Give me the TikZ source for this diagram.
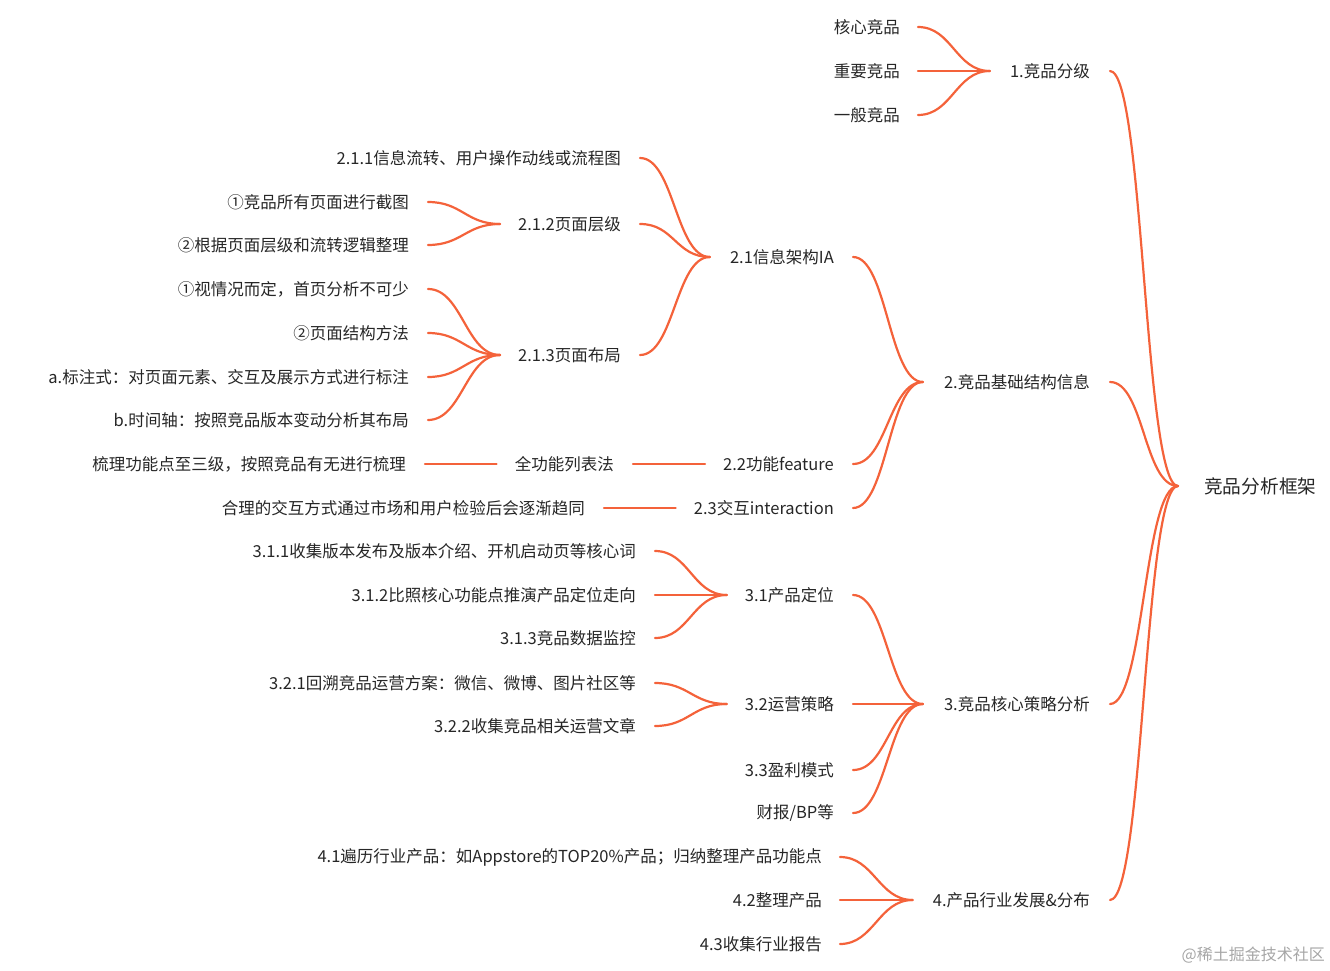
\documentclass[tikz,border=0pt]{standalone}
\usepackage{fontspec}
\setmainfont{Noto Sans CJK SC}
\begin{document}
\begin{tikzpicture}[x=1pt,y=-1pt,
  t/.style={anchor=east,inner sep=0pt,font=\fontsize{16.5}{19}\selectfont,text=black!85},
  ln/.style={draw=lc,line width=2.2pt,line cap=round}]
\definecolor{lc}{HTML}{F4623A}
\useasboundingbox (0,0) rectangle (1330,971);
\newcommand\nd[4]{\node[t] (#1) at (#2,#3) {#4};}
\newcommand\lk[4]{\draw[ln] ([xshift=#3]#1.east) .. controls +(34,0) and +(-34,0) .. ([xshift=-#4]#2.west);}
\node[anchor=west,inner sep=0pt,font=\fontsize{18.7}{21}\selectfont,text=black!85] (root) at (1204,486) {竞品分析框架};
\nd{a}{1090}{71}{1.竞品分级}
\nd{a1}{900}{27}{核心竞品}
\nd{a2}{900}{71}{重要竞品}
\nd{a3}{900}{115}{一般竞品}
\nd{b}{1090}{382}{2.竞品基础结构信息}
\nd{b1}{834}{257}{2.1信息架构IA}
\nd{b11}{621}{158}{2.1.1信息流转、用户操作动线或流程图}
\nd{b12}{621}{224}{2.1.2页面层级}
\nd{b121}{409}{202}{①竞品所有页面进行截图}
\nd{b122}{409}{245}{②根据页面层级和流转逻辑整理}
\nd{b13}{621}{355}{2.1.3页面布局}
\nd{b131}{409}{289}{①视情况而定，首页分析不可少}
\nd{b132}{409}{333}{②页面结构方法}
\nd{b133}{409}{377}{a.标注式：对页面元素、交互及展示方式进行标注}
\nd{b134}{409}{420}{b.时间轴：按照竞品版本变动分析其布局}
\nd{b2}{834}{464}{2.2功能feature}
\nd{b21}{614}{464}{全功能列表法}
\nd{b211}{406}{464}{梳理功能点至三级，按照竞品有无进行梳理}
\nd{b3}{834}{508}{2.3交互interaction}
\nd{b31}{585}{508}{合理的交互方式通过市场和用户检验后会逐渐趋同}
\nd{c}{1090}{704}{3.竞品核心策略分析}
\nd{c1}{834}{595}{3.1产品定位}
\nd{c11}{636}{551}{3.1.1收集版本发布及版本介绍、开机启动页等核心词}
\nd{c12}{636}{595}{3.1.2比照核心功能点推演产品定位走向}
\nd{c13}{636}{638}{3.1.3竞品数据监控}
\nd{c2}{834}{704}{3.2运营策略}
\nd{c21}{636}{683}{3.2.1回溯竞品运营方案：微信、微博、图片社区等}
\nd{c22}{636}{726}{3.2.2收集竞品相关运营文章}
\nd{c3}{834}{770}{3.3盈利模式}
\nd{c4}{834}{813}{财报/BP等}
\nd{d}{1090}{900}{4.产品行业发展\&分布}
\nd{d1}{822}{857}{4.1遍历行业产品：如Appstore的TOP20\%产品；归纳整理产品功能点}
\nd{d2}{822}{900}{4.2整理产品}
\nd{d3}{822}{944}{4.3收集行业报告}
\node[anchor=east,inner sep=0pt,font=\fontsize{16}{18}\selectfont,text=black!35] (wm) at (1325,955) {@稀土掘金技术社区};
% links
\foreach \c in {a,b,c,d} {\lk{\c}{root}{20}{26}}
\foreach \c in {a1,a2,a3} {\lk{\c}{a}{18}{20}}
\foreach \c in {b1,b2,b3} {\lk{\c}{b}{19}{21}}
\foreach \c in {b11,b12,b13} {\lk{\c}{b1}{19}{20}}
\foreach \c in {b121,b122} {\lk{\c}{b12}{19}{18}}
\foreach \c in {b131,b132,b133,b134} {\lk{\c}{b13}{19}{18}}
\draw[ln] ([xshift=19]b21.east) -- ([xshift=-18]b2.west);
\draw[ln] ([xshift=19]b211.east) -- ([xshift=-18]b21.west);
\draw[ln] ([xshift=19]b31.east) -- ([xshift=-18]b3.west);
\foreach \c in {c1,c2,c3,c4} {\lk{\c}{c}{19}{21}}
\foreach \c in {c11,c12,c13} {\lk{\c}{c1}{19}{18}}
\foreach \c in {c21,c22} {\lk{\c}{c2}{19}{18}}
\foreach \c in {d1,d2,d3} {\lk{\c}{d}{18}{20}}
\end{tikzpicture}
\end{document}
